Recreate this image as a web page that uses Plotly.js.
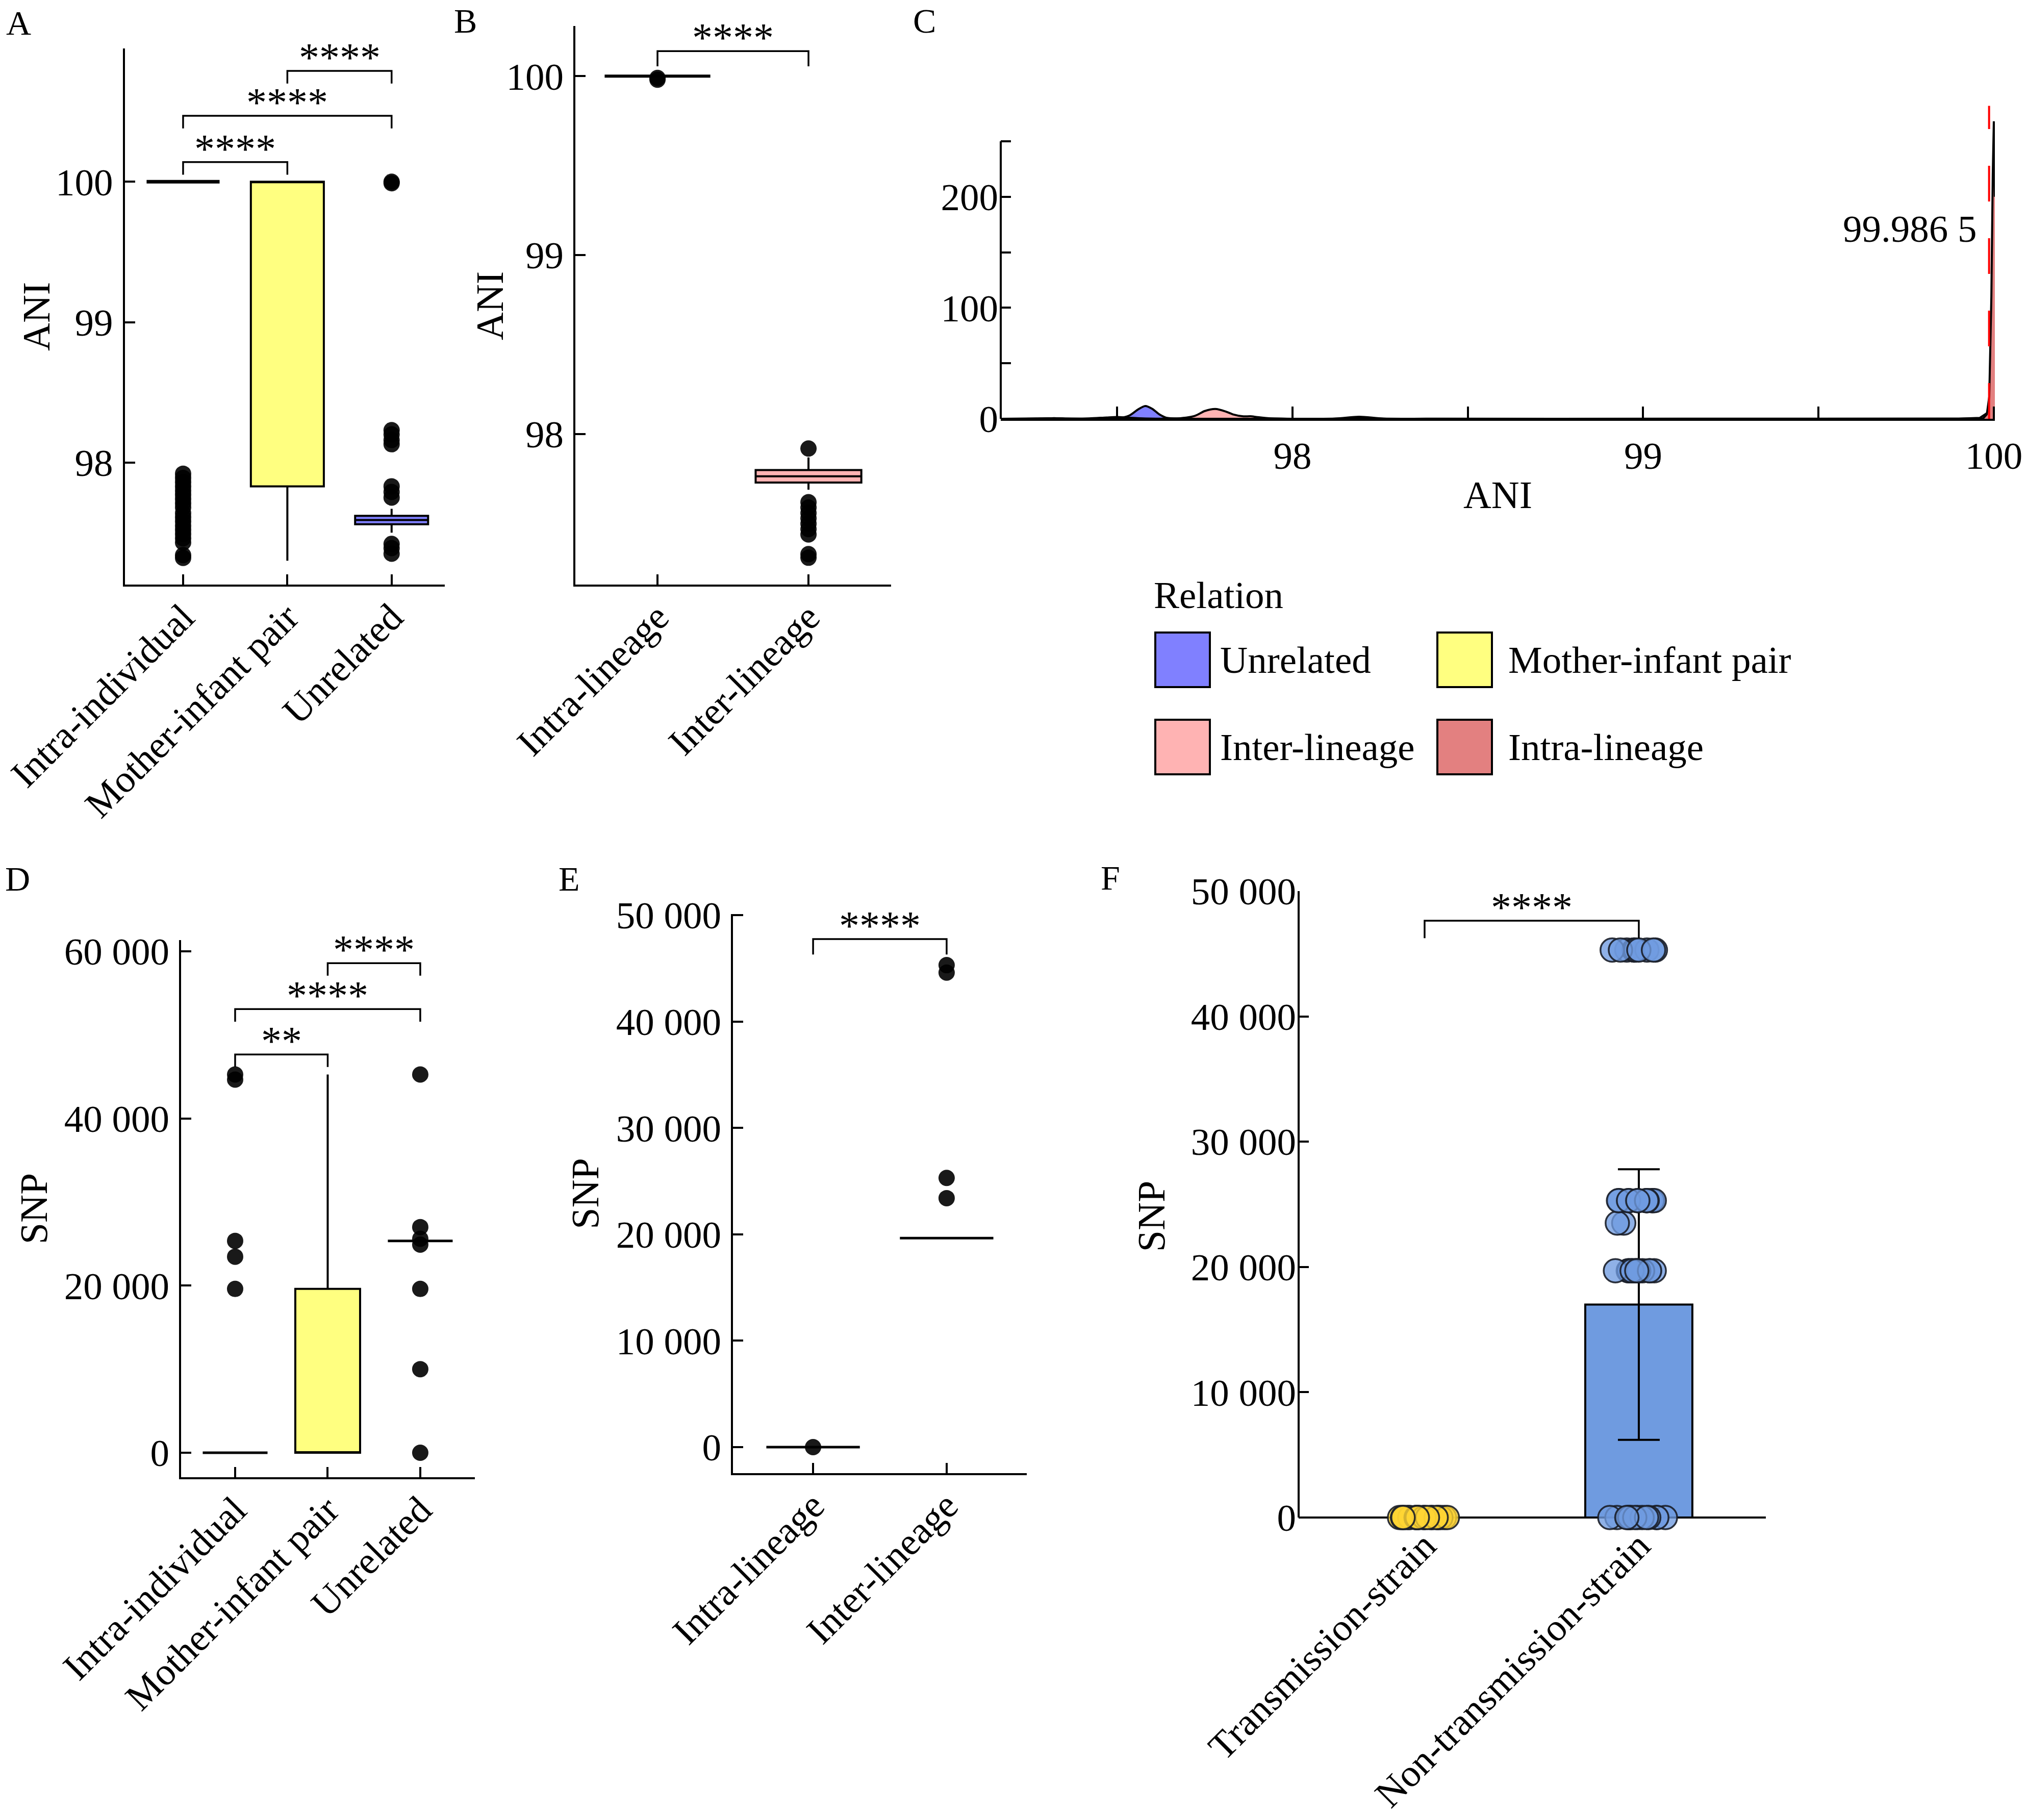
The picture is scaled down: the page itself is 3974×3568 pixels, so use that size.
<!DOCTYPE html>
<html>
<head>
<meta charset="utf-8">
<script src="https://cdn.plot.ly/plotly-3.0.1.min.js"></script>
<style>
  html, body { margin: 0; padding: 0; background: #fff; }
  #fig { width: 3974px; height: 3568px; }
</style>
</head>
<body>
<div id="fig"></div>
<script>
// ---------- data ----------
// A: ANI by relation (box stats + outliers)
const catsA = ["Intra-individual", "Mother-infant pair", "Unrelated"];
const aQ1  = [100, 97.83, 97.56];
const aMed = [100, 100,   97.59];
const aQ3  = [100, 100,   97.62];
const aLo  = [100, 97.30, 97.50];
const aHi  = [100, 100,   97.67];
const aOutIntra = [97.92, 97.89, 97.86, 97.83, 97.80, 97.77, 97.74, 97.71, 97.68, 97.64,
                   97.61, 97.58, 97.55, 97.52, 97.49, 97.46, 97.43, 97.34, 97.32];
const aOutUnrel = [100, 99.99, 98.23, 98.20, 98.16, 98.13, 97.83, 97.79, 97.75, 97.42, 97.39, 97.35];
const aSigPairs = [[0, 1], [0, 2], [1, 2]];
const aSigY = [100.14, 100.47, 100.79];
const aSigTxt = ["****", "****", "****"];

// B: ANI by lineage
const catsB = ["Intra-lineage", "Inter-lineage"];
const bQ1  = [100, 97.73];
const bMed = [100, 97.765];
const bQ3  = [100, 97.80];
const bLo  = [100, 97.69];
const bHi  = [100, 97.87];
const bOutIntra = [99.99, 99.98];
const bOutInter = [97.92, 97.62, 97.59, 97.56, 97.53, 97.50, 97.47, 97.44, 97.33, 97.31];
const bSigY = [100.14];

// C: ANI density by relation
const relNames = ["Unrelated", "Mother-infant pair", "Inter-lineage", "Intra-lineage"];
const relColors = ["#8080FF", "#FFFF80", "#FFB3B3", "#E38080"];
const unrelX = [97.17, 97.30, 97.33, 97.36, 97.45, 97.50, 97.535, 97.56, 97.58, 97.60, 97.62, 97.64,
                97.68, 97.74, 97.78, 97.82, 97.90, 98.12, 98.19, 98.26, 98.40, 99.90, 99.99, 100.003];
const unrelY = [0, 0.1, 0.4, 0.1, 0.1, 0.4, 3, 8.5, 11.5, 9, 4, 1,
                0.2, 0.3, 0.8, 0.3, 0.1, 0.2, 1.8, 0.2, 0.1, 0.1, 0.5, 0.5];
const motherX = [97.17, 97.25, 97.31, 97.37, 97.45, 97.85, 97.88, 97.92, 98.0, 99.90, 99.96, 99.985, 99.995, 100.0, 100.003];
const motherY = [0, 0.1, 0.5, 0.1, 0, 0.3, 1.0, 0.3, 0, 0.1, 0.8, 6, 40, 60, 55];
const interX = [97.17, 97.28, 97.32, 97.36, 97.42, 97.47, 97.50, 97.53, 97.58, 97.66, 97.72, 97.75,
                97.78, 97.81, 97.83, 97.86, 97.88, 97.90, 97.94, 98.00, 100.003];
const interY = [0, 0.1, 0.6, 0.1, 0.3, 1.2, 1.6, 1.0, 0.2, 0.1, 2.5, 7,
                8.8, 6.5, 4, 2.2, 2.3, 1.5, 0.3, 0, 0];
const intraX = [97.17, 99.95, 99.97, 99.98, 99.987, 99.993, 99.997, 100.0, 100.003];
const intraY = [0, 0, 0.5, 4, 20, 110, 220, 268, 200];
const refANI = 99.9865;
const refTop = 282;
const refLabel = "99.986 5";

// D: SNP by relation
const dQ1  = [0, 0, 25350];
const dMed = [0, 0, 25350];
const dQ3  = [0, 19600, 25350];
const dLo  = [0, 0, 25350];
const dHi  = [0, 45260, 25350];
const dOutIntra = [45260, 44650, 25350, 23460, 19600];
const dOutUnrel = [45260, 27000, 25600, 24900, 19600, 10000, 0];
const dSigY = [47650, 53080, 58580];
const dSigTxt = ["**", "****", "****"];

// E: SNP by lineage
const eQ1  = [0, 19650];
const eMed = [0, 19650];
const eQ3  = [0, 19650];
const eLo  = [0, 19650];
const eHi  = [0, 19650];
const eOutIntra = [0];
const eOutInter = [45300, 44600, 25300, 23400];
const eSigY = [47750];

// F: SNP, transmission vs non-transmission strains
const catsF = ["Transmission-strain", "Non-transmission-strain"];
const fMean = [0, 17000];
const fSd = [0, 10800];
const fPtsTrans = [0, 0, 0, 0, 0, 0, 0, 0, 0, 0, 0, 0, 0, 0, 0, 0, 0, 0, 0, 0, 0, 0, 0, 0];
const fPtsNon = [45300, 45300, 45300, 45300, 45300, 45300, 45300, 45300, 45300, 45300,
                 25300, 25300, 25300, 25300, 25300, 25300, 25300, 25300, 25300, 25300, 25300, 25300,
                 23500, 23500,
                 19700, 19700, 19700, 19700, 19700, 19700, 19700, 19700, 19700, 19700, 19700, 19700, 19700, 19700,
                 0, 0, 0, 0, 0, 0, 0, 0, 0, 0, 0, 0, 0, 0];
const fSigY = [47640];

// ---------- helpers ----------
const W = 3974, H = 3568;
const FONT = "Liberation Serif, Times New Roman, serif";
const TXT = { family: FONT, size: 75, color: "#000" };
const TITLE_FONT = { family: FONT, size: 76, color: "#000" };
const px = (l, r) => [l / W, r / W];
const py = (top, bot) => [1 - bot / H, 1 - top / H];

function axis(extra) {
  return Object.assign({
    showline: true, linecolor: "#000", linewidth: 4,
    ticks: "inside", ticklen: 20, tickwidth: 4, tickcolor: "#000",
    showgrid: false, zeroline: false, tickfont: TXT, fixedrange: true,
    ticklabelstandoff: 4
  }, extra);
}
function ytitle(t, s) { return { text: t, font: TITLE_FONT, standoff: s }; }

function box(xa, ya, cat, q1, med, q3, lo, hi, fill, lw) {
  return {
    type: "box", xaxis: xa, yaxis: ya, x: [cat],
    q1: [q1], median: [med], q3: [q3], lowerfence: [lo], upperfence: [hi],
    fillcolor: fill, line: { color: "#000", width: lw || 4 },
    width: 0.7, whiskerwidth: 0, boxpoints: false, hoverinfo: "skip"
  };
}
function outliers(xa, ya, cat, vals) {
  return {
    type: "scatter", mode: "markers", xaxis: xa, yaxis: ya,
    x: vals.map(() => cat), y: vals, cliponaxis: false, hoverinfo: "skip",
    marker: { color: "#000", size: 32, opacity: 0.9 }
  };
}
const annos = [];
function brackets(xa, ya, cats, pairs, ys, leg, labels) {
  const out = [];
  pairs.forEach((p, i) => {
    const [a, b] = p, y = ys[i];
    out.push({
      type: "scatter", mode: "lines", xaxis: xa, yaxis: ya, cliponaxis: false,
      x: [cats[a], cats[a], cats[b], cats[b]], y: [y - leg, y, y, y - leg],
      line: { color: "#000", width: 3.5 }, hoverinfo: "skip"
    });
    annos.push({
      xref: xa, yref: ya, x: (a + b) / 2, y: y, text: labels[i], showarrow: false,
      yanchor: "bottom", yshift: -20, font: { family: FONT, size: 80, color: "#000" }
    });
  });
  return out;
}

// ---------- traces ----------
const data = [];
const fillA = ["#FFFFFF", "#FFFF80", "#8080FF"];
const lwA = [7, 4, 4];
catsA.forEach((c, i) => data.push(box("x", "y", c, aQ1[i], aMed[i], aQ3[i], aLo[i], aHi[i], fillA[i], lwA[i])));
data.push(outliers("x", "y", catsA[0], aOutIntra));
data.push(outliers("x", "y", catsA[2], aOutUnrel));
data.push(...brackets("x", "y", catsA, aSigPairs, aSigY, 0.09, aSigTxt));

const fillB = ["#FFFFFF", "#FFB3B3"];
catsB.forEach((c, i) => data.push(box("x2", "y2", c, bQ1[i], bMed[i], bQ3[i], bLo[i], bHi[i], fillB[i], i === 0 ? 6 : 4)));
data.push(outliers("x2", "y2", catsB[0], bOutIntra));
data.push(outliers("x2", "y2", catsB[1], bOutInter));
data.push(...brackets("x2", "y2", catsB, [[0, 1]], bSigY, 0.085, ["****"]));

const densX = [unrelX, motherX, interX, intraX];
const densY = [unrelY, motherY, interY, intraY];
relNames.forEach((n, i) => {
  data.push({
    type: "scatter", mode: "lines", xaxis: "x3", yaxis: "y3", name: n,
    x: densX[i], y: densY[i], fill: "tozeroy", fillcolor: relColors[i],
    line: { color: "#000", width: 4, shape: i === 0 || i === 2 ? "spline" : "linear", smoothing: 0.8 },
    hoverinfo: "skip"
  });
});
data.push({
  type: "scatter", mode: "lines", xaxis: "x3", yaxis: "y3",
  x: [refANI, refANI], y: [0, refTop], cliponaxis: false,
  line: { color: "#FF0000", width: 4, dash: "70px,72px" }, hoverinfo: "skip"
});

const fillD = ["#FFFFFF", "#FFFF80", "#FFFFFF"];
catsA.forEach((c, i) => data.push(box("x4", "y4", c, dQ1[i], dMed[i], dQ3[i], dLo[i], dHi[i], fillD[i], i === 1 ? 4 : 5)));
data.push(outliers("x4", "y4", catsA[0], dOutIntra));
data.push(outliers("x4", "y4", catsA[2], dOutUnrel));
data.push(...brackets("x4", "y4", catsA, aSigPairs, dSigY, 1500, dSigTxt));

catsB.forEach((c, i) => data.push(box("x5", "y5", c, eQ1[i], eMed[i], eQ3[i], eLo[i], eHi[i], "#FFFFFF", 5)));
data.push(outliers("x5", "y5", catsB[0], eOutIntra));
data.push(outliers("x5", "y5", catsB[1], eOutInter));
data.push(...brackets("x5", "y5", catsB, [[0, 1]], eSigY, 1450, ["****"]));

const fBarColors = ["#FFD433", "#6F9BE0"];
data.push({
  type: "bar", xaxis: "x6", yaxis: "y6", x: catsF, y: fMean, width: 0.5,
  marker: { color: fBarColors, line: { color: "#000", width: 4 } },
  error_y: { type: "data", array: fSd, visible: true, color: "#000", thickness: 4, width: 41 },
  hoverinfo: "skip"
});
const fPts = [fPtsTrans, fPtsNon];
const fPtColors = ["rgba(255,212,51,0.8)", "rgba(111,155,224,0.78)"];
const fJitterWidth = [0.24, 0.32];
catsF.forEach((c, i) => {
  data.push({
    type: "box", xaxis: "x6", yaxis: "y6", x: fPts[i].map(() => c), y: fPts[i],
    boxpoints: "all", jitter: 1, pointpos: 0, width: fJitterWidth[i],
    fillcolor: "rgba(0,0,0,0)", line: { color: "rgba(0,0,0,0)", width: 0 },
    marker: { size: 46, color: fPtColors[i], line: { color: "rgba(25,30,40,0.9)", width: 3.5 } },
    hoverinfo: "skip"
  });
});
data.push(...brackets("x6", "y6", catsF, [[0, 1]], fSigY, 1400, ["****"]));

// ---------- layout ----------
const catAxis = (cats, extra) => axis(Object.assign({
  type: "category", categoryorder: "array", categoryarray: cats, tickangle: -45, ticklabelstandoff: -14
}, extra));

const layout = {
  width: W, height: H, margin: { l: 0, r: 0, t: 0, b: 0 },
  paper_bgcolor: "#fff", plot_bgcolor: "rgba(0,0,0,0)",
  showlegend: false, boxmode: "overlay", barmode: "overlay",
  font: TXT,
  xaxis:  catAxis(catsA, { domain: px(244.5, 872), range: [-0.56, 2.51], anchor: "y" }),
  yaxis:  axis({ domain: py(95, 1146), range: [97.13, 100.95], tickvals: [98, 99, 100], anchor: "x" }),
  xaxis2: catAxis(catsB, { domain: px(1128, 1747), range: [-0.544, 1.547], anchor: "y2" }),
  yaxis2: axis({ domain: py(51, 1146), range: [97.16, 100.28], tickvals: [98, 99, 100], anchor: "x2" }),
  xaxis3: axis({ domain: px(1962, 3911), range: [97.168, 100.003], anchor: "y3",
                 tickvals: [97.5, 98, 98.5, 99, 99.5, 100], ticktext: ["", "98", "", "99", "", "100"], ticklen: 24,
                 title: { text: "ANI", font: TITLE_FONT, standoff: 10 } }),
  yaxis3: axis({ domain: py(200, 821), range: [0, 285.4], anchor: "x3", showline: false,
                 tickvals: [0, 50, 100, 150, 200, 250], ticktext: ["0", "", "100", "", "200", ""] }),
  xaxis4: catAxis(catsA, { domain: px(355, 931), range: [-0.584, 2.59], anchor: "y4" }),
  yaxis4: axis({ domain: py(1843, 2896), range: [-2930, 61340], tickvals: [0, 20000, 40000, 60000],
                 tickformat: ",d", anchor: "x4", title: ytitle("SNP", 9) }),
  xaxis5: catAxis(catsB, { domain: px(1437, 2013), range: [-0.6, 1.6], anchor: "y5" }),
  yaxis5: axis({ domain: py(1792, 2888), range: [-2445, 50100], tickvals: [0, 10000, 20000, 30000, 40000, 50000],
                 tickformat: ",d", anchor: "x5", title: ytitle("SNP", 10) }),
  xaxis6: catAxis(catsF, { domain: px(2546, 3462), range: [-0.588, 1.593], anchor: "y6", showline: false, ticks: "",
                           ticklabelstandoff: -52 }),
  yaxis6: axis({ domain: py(1747, 3022), range: [-1914, 50000], tickvals: [0, 10000, 20000, 30000, 40000, 50000],
                 tickformat: ",d", anchor: "x6", showline: false, zeroline: true, zerolinecolor: "#000", zerolinewidth: 4,
                 title: ytitle("SNP", 26) }),
  separators: ". ",
  shapes: [
    { type: "line", xref: "x3 domain", yref: "y3", x0: 0, x1: 0, y0: 0, y1: 250, line: { color: "#000", width: 4 } },
    { type: "line", xref: "x6 domain", yref: "y6", x0: 0, x1: 0, y0: 0, y1: 50000, line: { color: "#000", width: 4 } }
  ],
  annotations: annos
};

// y titles of A and B sit close to their tick labels
[["ANI", 71, 621], ["ANI", 960, 600]].forEach(([t, x, y]) => annos.push({
  xref: "paper", yref: "paper", x: x / W, y: 1 - y / H, text: t, textangle: -90, showarrow: false,
  xanchor: "center", yanchor: "middle", font: TITLE_FONT
}));

// C annotation for the reference line
annos.push({ xref: "x3", yref: "y3", x: 99.955, y: 171, text: refLabel, showarrow: false,
             xanchor: "right", yanchor: "middle", font: TXT });

// panel letters
const letters = ["A", "B", "C", "D", "E", "F"];
const letterPos = [[10, 45], [888, 41], [1788, 41], [8, 1723], [1093, 1723], [2156, 1721]];
letters.forEach((t, i) => annos.push({
  xref: "paper", yref: "paper", x: letterPos[i][0] / W, y: 1 - letterPos[i][1] / H, text: t,
  showarrow: false, xanchor: "left", yanchor: "middle", font: { family: FONT, size: 68, color: "#000" }
}));

// C legend (drawn by hand as a 2x2 grid)
annos.push({ xref: "paper", yref: "paper", x: 2260 / W, y: 1 - 1166 / H, text: "Relation", showarrow: false,
             xanchor: "left", yanchor: "middle", font: TXT });
const legCols = [2265, 2818], legTextX = [2390, 2955], legRows = [1240, 1411], sw = 107;
relNames.forEach((n, i) => {
  const c = i % 2, r = Math.floor(i / 2);
  layout.shapes.push({
    type: "rect", xref: "paper", yref: "paper",
    x0: legCols[c] / W, x1: (legCols[c] + sw) / W, y0: 1 - (legRows[r] + sw) / H, y1: 1 - legRows[r] / H,
    fillcolor: relColors[i], line: { color: "#000", width: 4 }
  });
  annos.push({ xref: "paper", yref: "paper", x: legTextX[c] / W, y: 1 - (legRows[r] + sw / 2) / H, text: n,
               showarrow: false, xanchor: "left", yanchor: "middle", font: TXT });
});

Plotly.newPlot("fig", data, layout, { staticPlot: true, displayModeBar: false });
</script>
</body>
</html>
